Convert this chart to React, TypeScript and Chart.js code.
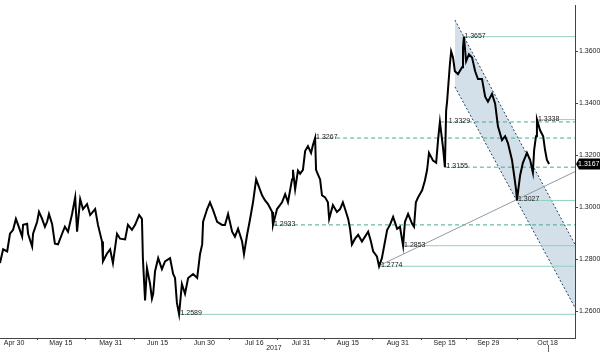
import React, { useEffect, useRef } from "react";
import { Chart, registerables } from "chart.js";

Chart.register(...registerables);

// ---- x axis (days since 2017-04-30) ----
const xAxisStartDay = -4.5;
const xAxisEndDay = 179.8;
const axisDays = [0, 15, 31, 46, 61, 77, 92, 107, 123, 138, 152, 171];
const axisLabels = ["Apr 30", "May 15", "May 31", "Jun 15", "Jun 30", "Jul 16", "Jul 31", "Aug 15", "Aug 31", "Sep 15", "Sep 29", "Oct 18"];
const minorTickDays = [7.5, 23, 38.5, 53.5, 69, 84.5, 99.5, 115, 130.5, 145, 161.5];
const yearLabel = "2017";
const yearLabelDay = 83.3;

// ---- y axis ----
const yMin = 1.2498;
const yMax = 1.3778;
const yTicks = [1.26, 1.28, 1.30, 1.32, 1.34, 1.36];

// ---- price ----
const priceDays = [
  -4.5, -3.5, -2.2, -1.3, -0.3, 0.6, 1.3, 2.6, 2.9, 4.2, 4.5, 5.8, 6.1, 7.4, 8.0, 9.0, 9.9, 10.6, 11.2, 12.2,
  13.1, 14.1, 15.4, 16.3, 17.3, 18.6, 19.6, 20.2, 21.2, 22.1, 23.4, 24.4, 26.0, 26.9, 28.2, 28.5, 29.8, 30.8, 31.7, 33.0,
  34.0, 35.6, 36.5, 37.8, 38.8, 40.1, 41.0, 41.3, 42.0, 42.6, 43.6, 44.2, 44.6, 45.2, 46.2, 47.4, 48.4, 50.0, 51.0, 51.6,
  52.2, 52.9, 53.8, 54.8, 55.8, 57.4, 58.7, 59.6, 60.3, 60.6, 61.9, 62.8, 63.8, 65.1, 66.7, 67.6, 68.6, 69.9, 70.8, 71.8,
  73.1, 73.7, 74.7, 75.6, 76.6, 77.6, 78.2, 79.5, 80.4, 81.4, 82.7, 83.0, 84.3, 85.9, 86.9, 87.8, 89.1, 89.4, 90.1, 91.0,
  91.7, 92.6, 93.3, 94.2, 95.2, 95.8, 96.5, 96.8, 97.4, 98.1, 98.7, 99.7, 100.6, 101.0, 102.2, 103.5, 104.5, 105.4, 106.1, 107.1,
  107.7, 108.3, 109.3, 110.3, 111.5, 112.5, 113.5, 114.4, 115.1, 116.3, 117.0, 117.9, 118.9, 119.6, 120.5, 121.5, 122.8, 123.7, 124.7, 125.3,
  126.3, 127.6, 128.2, 128.8, 129.5, 130.8, 131.7, 132.4, 133.0, 134.3, 135.3, 135.9, 136.5, 137.5, 138.1, 138.5, 138.8, 139.7, 140.1, 140.7,
  141.3, 142.3, 143.6, 143.9, 144.2, 144.9, 145.8, 146.8, 147.8, 148.7, 150.0, 151.0, 151.9, 153.2, 154.2, 155.1, 156.4, 157.4, 158.3, 159.6,
  160.3, 160.9, 161.2, 162.2, 163.1, 164.4, 165.4, 166.3, 166.7, 167.3, 167.6, 168.6, 169.6, 170.2, 170.8, 171.5,
];
const priceValues = [
  1.2786, 1.2839, 1.2831, 1.2899, 1.2914, 1.2956, 1.2933, 1.2888, 1.2933, 1.2937, 1.2899, 1.2850, 1.2899, 1.2945, 1.2983, 1.2956, 1.2926, 1.2945, 1.2975, 1.2937,
  1.2861, 1.2858, 1.2899, 1.2926, 1.2907, 1.2975, 1.3039, 1.2907, 1.3032, 1.2994, 1.3013, 1.2971, 1.2994, 1.2933, 1.2869, 1.2793, 1.2823, 1.2839, 1.2786, 1.2899,
  1.2880, 1.2877, 1.2933, 1.2914, 1.2933, 1.2971, 1.2956, 1.2805, 1.2642, 1.2767, 1.2706, 1.2649, 1.2668, 1.2755, 1.2805, 1.2763, 1.2793, 1.2805, 1.2744, 1.2729,
  1.2634, 1.2589, 1.2706, 1.2668, 1.2729, 1.2744, 1.2729, 1.2820, 1.2858, 1.2945, 1.2994, 1.3020, 1.2990, 1.2945, 1.2933, 1.2933, 1.2975, 1.2907, 1.2888, 1.2918,
  1.2869, 1.2820, 1.2895, 1.2952, 1.3020, 1.3108, 1.3089, 1.3047, 1.3028, 1.3013, 1.2983, 1.2933, 1.2994, 1.3020, 1.3051, 1.3020, 1.3108, 1.3145, 1.3070, 1.3142,
  1.3130, 1.3145, 1.3217, 1.3236, 1.3210, 1.3240, 1.3267, 1.3145, 1.3127, 1.3108, 1.3047, 1.3039, 1.3020, 1.2956, 1.3009, 1.2983, 1.2994, 1.3020, 1.2994, 1.2956,
  1.2918, 1.2858, 1.2880, 1.2895, 1.2869, 1.2888, 1.2907, 1.2869, 1.2831, 1.2812, 1.2774, 1.2805, 1.2869, 1.2914, 1.2933, 1.2964, 1.2918, 1.2926, 1.2853, 1.2945,
  1.2975, 1.2937, 1.2926, 1.3020, 1.3039, 1.3066, 1.3104, 1.3145, 1.3210, 1.3180, 1.3172, 1.3259, 1.3329, 1.3230, 1.3155, 1.3373, 1.3407, 1.3551, 1.3600, 1.3577,
  1.3524, 1.3513, 1.3539, 1.3615, 1.3657, 1.3562, 1.3589, 1.3577, 1.3524, 1.3494, 1.3494, 1.3426, 1.3407, 1.3437, 1.3399, 1.3312, 1.3259, 1.3274, 1.3248, 1.3183,
  1.3123, 1.3070, 1.3027, 1.3123, 1.3172, 1.3210, 1.3183, 1.3134, 1.3221, 1.3274, 1.3338, 1.3297, 1.3274, 1.3221, 1.3183, 1.3167,
];
const lastPrice = 1.3167;

// ---- horizontal levels ----
const levelValues = [1.3657, 1.3338, 1.3329, 1.3267, 1.3155, 1.3027, 1.2933, 1.2853, 1.2774, 1.2589];
const levelStartDays = [143.9, 167.6, 136.5, 96.5, 138.1, 161.2, 83.0, 124.7, 117.0, 52.9];
const levelLabelDays = [144.0, 167.6, 139.0, 96.5, 138.3, 161.2, 83.0, 124.7, 117.3, 53.0];
const levelDashed = [false, false, true, true, true, false, true, false, false, false];

// ---- falling channel ----
const channelDays = [141.3, 179.8];
const channelUpper = [1.3721, 1.2858];
const channelLower = [1.3464, 1.2615];

// ---- rising trend line ----
const trendDays = [117.0, 179.8];
const trendValues = [1.2776, 1.3138];

const FONT = "'Liberation Sans', 'DejaVu Sans', sans-serif";
const FONT_SIZE = 7;
const solidLevelColor = "#93d0c0";
const dashedLevelColor = "#46aa8e";
const channelLineColor = "#27415c";
const channelFillColor = "rgba(196, 213, 227, 0.75)";
const trendColor = "#8e9ba7";

const annotationPlugin = {
  id: "annotations",
  afterDraw(chart: any) {
    const { ctx } = chart;
    const x = chart.scales.x;
    const y = chart.scales.y;
    ctx.save();
    ctx.font = `${FONT_SIZE}px ${FONT}`;
    ctx.fillStyle = "#1a1a1a";
    ctx.textBaseline = "alphabetic";
    ctx.textAlign = "left";
    levelValues.forEach((v, i) => {
      ctx.fillText(v.toFixed(4), x.getPixelForValue(levelLabelDays[i]) + 1, y.getPixelForValue(v) + 1);
    });
    // year label
    ctx.textAlign = "center";
    ctx.textBaseline = "middle";
    ctx.fillText(yearLabel, x.getPixelForValue(yearLabelDay), chart.height - 3.5);
    // marker under last date
    const lx = Math.round(x.getPixelForValue(axisDays[axisDays.length - 1])) + 0.5;
    ctx.strokeStyle = "#666";
    ctx.lineWidth = 1;
    ctx.beginPath();
    ctx.moveTo(lx, chart.chartArea.bottom + 7);
    ctx.lineTo(lx, chart.height);
    ctx.stroke();
    // last price tag
    const py = Math.round(y.getPixelForValue(lastPrice));
    const left = chart.chartArea.right + 1;
    ctx.fillStyle = "#000";
    ctx.beginPath();
    ctx.moveTo(left, py);
    ctx.lineTo(left + 3, py - 5.5);
    ctx.lineTo(chart.width, py - 5.5);
    ctx.lineTo(chart.width, py + 5.5);
    ctx.lineTo(left + 3, py + 5.5);
    ctx.closePath();
    ctx.fill();
    ctx.fillStyle = "#fff";
    ctx.textAlign = "right";
    ctx.textBaseline = "middle";
    ctx.font = `${FONT_SIZE}px ${FONT}`;
    ctx.fillText(lastPrice.toFixed(4), chart.width - 0.5, py + 0.5);
    ctx.restore();
  },
};

export default function App() {
  const canvasRef = useRef<HTMLCanvasElement | null>(null);

  useEffect(() => {
    if (!canvasRef.current) return;
    const toPts = (xs: number[], ys: number[]) => xs.map((d, i) => ({ x: d, y: ys[i] }));

    const levelDatasets = levelValues.map((v, i) => ({
      type: "line" as const,
      data: [
        { x: levelStartDays[i], y: v },
        { x: xAxisEndDay, y: v },
      ],
      borderColor: levelDashed[i] ? dashedLevelColor : solidLevelColor,
      borderDash: levelDashed[i] ? [4, 3] : [],
      borderWidth: 1,
      pointRadius: 0,
      fill: false,
      order: 3,
    }));

    const chart = new Chart(canvasRef.current, {
      type: "line",
      data: {
        datasets: [
          {
            data: toPts(priceDays, priceValues),
            borderColor: "#000",
            borderWidth: 2,
            pointRadius: 0,
            fill: false,
            tension: 0,
            order: 0,
          },
          {
            data: toPts(trendDays, trendValues),
            borderColor: trendColor,
            borderWidth: 1,
            pointRadius: 0,
            fill: false,
            order: 2,
          },
          ...levelDatasets,
          {
            data: toPts(channelDays, channelUpper),
            borderColor: channelLineColor,
            borderDash: [2, 2],
            borderWidth: 1,
            pointRadius: 0,
            fill: false,
            order: 5,
          },
          {
            data: toPts(channelDays, channelLower),
            borderColor: channelLineColor,
            borderDash: [2, 2],
            borderWidth: 1,
            pointRadius: 0,
            fill: "-1",
            backgroundColor: channelFillColor,
            order: 5,
          },
        ] as any,
      },
      options: {
        animation: false,
        responsive: false,
        events: [],
        layout: { padding: 0 },
        plugins: { legend: { display: false }, tooltip: { enabled: false } },
        scales: {
          x: {
            type: "linear",
            position: "bottom",
            min: xAxisStartDay,
            max: xAxisEndDay,
            afterBuildTicks: (axis: any) => {
              axis.ticks = [...axisDays, ...minorTickDays].sort((a, b) => a - b).map((v) => ({ value: v }));
            },
            afterFit: (axis: any) => {
              axis.height = 14;
            },
            ticks: {
              autoSkip: false,
              maxRotation: 0,
              padding: -1,
              color: "#222",
              font: { family: FONT, size: FONT_SIZE },
              callback: (value: any) => {
                const idx = axisDays.indexOf(Number(value));
                return idx >= 0 ? axisLabels[idx] : "";
              },
            },
            grid: {
              drawOnChartArea: false,
              drawTicks: true,
              tickLength: 2,
              tickColor: (ctx: any) => (ctx.tick && axisDays.indexOf(ctx.tick.value) < 0 ? "#555" : "rgba(0,0,0,0)"),
            },
            border: { display: true, color: "#444" },
          },
          y: {
            type: "linear",
            position: "right",
            min: yMin,
            max: yMax,
            afterBuildTicks: (axis: any) => {
              axis.ticks = yTicks.map((v) => ({ value: v }));
            },
            afterFit: (axis: any) => {
              axis.width = 25;
            },
            ticks: {
              padding: 1,
              color: "#222",
              font: { family: FONT, size: FONT_SIZE },
              callback: (value: any) => Number(value).toFixed(4),
            },
            grid: { drawOnChartArea: false, drawTicks: true, tickLength: 3, tickColor: "#444" },
            border: { display: true, color: "#444" },
          },
        },
      },
      plugins: [annotationPlugin],
    });
    return () => chart.destroy();
  }, []);

  return (
    <div style={{ position: "absolute", left: 0, top: 0, width: 600, height: 352, background: "#fff" }}>
      <canvas ref={canvasRef} width={600} height={352} style={{ display: "block" }} />
    </div>
  );
}
